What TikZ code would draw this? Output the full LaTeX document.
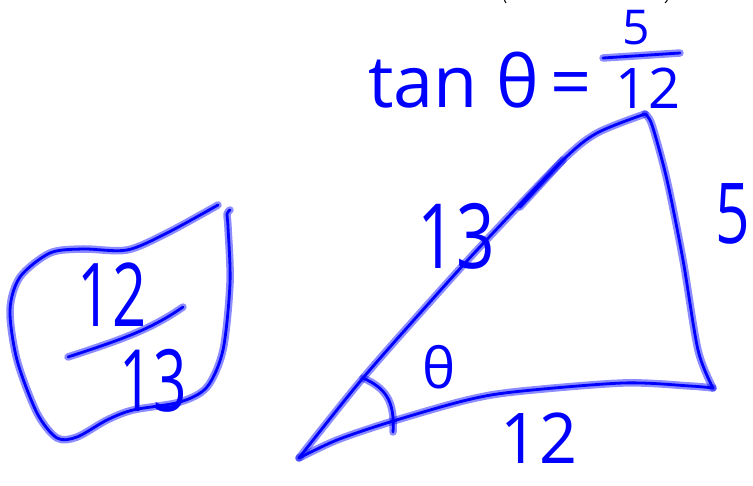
\documentclass[tikz,border=0pt]{standalone}
\usepackage{fontspec}
\setmainfont{Open Sans}
\begin{document}
\begin{tikzpicture}[x=1pt,y=-1pt,
  ink/.style={draw=blue, line width=2.8pt, line cap=round, line join=round,
    preaction={draw=blue, draw opacity=0.45, line width=7.5pt, line cap=round, line join=round}},
  hand/.style={text=blue, inner sep=0pt, outer sep=0pt},
  blackmark/.style={draw=black, line width=1pt}]
\useasboundingbox (0,0) rectangle (753,486);
\clip (0,0) rectangle (753,486);
\fill[white] (0,0) rectangle (753,486);

% tiny marks at top edge
\draw[blackmark] (507,-3) .. controls (504,0) .. (506,3) coordinate (pl);
\draw[blackmark] (665,-3) .. controls (668,0) .. (665,3) coordinate (pr);

% tan theta = 5/12
\node[hand, anchor=base west, font=\fontsize{72}{76}\selectfont] (tan) at (368,108) {tan θ\,=};
\node[hand, font=\fontsize{48}{52}\selectfont] (five) at (636,28) {5};
\coordinate (fb1) at (603,58);
\coordinate (fb2) at (680,53);
\draw[ink] (fb1) -- (fb2);
\node[hand, font=\fontsize{56}{60}\selectfont] (twelvetop) at (648,88) {12};

% triangle
\coordinate (A) at (299,458);
\coordinate (B) at (645,114);
\coordinate (C) at (713,388);
\draw[ink] plot[smooth, tension=0.5] coordinates {(A) (363,378) (447,283) (493,233) (563,160) (597,133) (B)};
\draw[ink] plot[smooth, tension=0.5] coordinates {(B) (652,125) (667,180) (683,260) (698,350) (C)};
\draw[ink] plot[smooth, tension=0.5] coordinates {(C) (690,386) (623,383) (513,392) (463,401) (390,422) (337,440) (A)};
% retrace stroke on hypotenuse
\coordinate (r1) at (520,207);
\coordinate (r2) at (563,160);
\draw[ink] (r1) -- (r2);
% angle arc
\coordinate (a1) at (363,378);
\coordinate (a2) at (393,432);
\draw[ink] (a1) .. controls (385,388) and (395,400) .. (a2);

% side labels
\node[hand, font=\fontsize{90}{94}\selectfont] (hyp) at (456,236) {\scalebox{0.75}[1]{13}};
\node[hand, anchor=base, font=\fontsize{70}{72}\selectfont] (base) at (539,464) {\scalebox{0.95}[1]{12}};
\node[hand, font=\fontsize{84}{88}\selectfont] (side) at (733,214) {\scalebox{0.72}[1]{5}};
\node[hand, font=\fontsize{56}{60}\selectfont] (theta) at (439,367) {θ};

% boxed fraction 12/13
\coordinate (k0) at (218,205);
\draw[ink] plot[smooth, tension=0.5] coordinates {(k0) (167,233) (127,250) (83,249) (50,253) (20,277) (10,310) (17,360) (37,413) (57,438) (77,437) (107,420) (133,410) (180,402) (207,387) (223,350) (230,283) (228,227) (227,214) (230,210)};
\coordinate (q1) at (68,357);
\coordinate (q2) at (183,307);
\draw[ink] (q1) .. controls (120,340) and (150,330) .. (q2);
\node[hand, font=\fontsize{88}{92}\selectfont] (bnum) at (112,295) {\scalebox{0.68}[1]{12}};
\node[hand, font=\fontsize{86}{90}\selectfont] (bden) at (153,381) {\scalebox{0.68}[1]{13}};
\end{tikzpicture}
\end{document}
